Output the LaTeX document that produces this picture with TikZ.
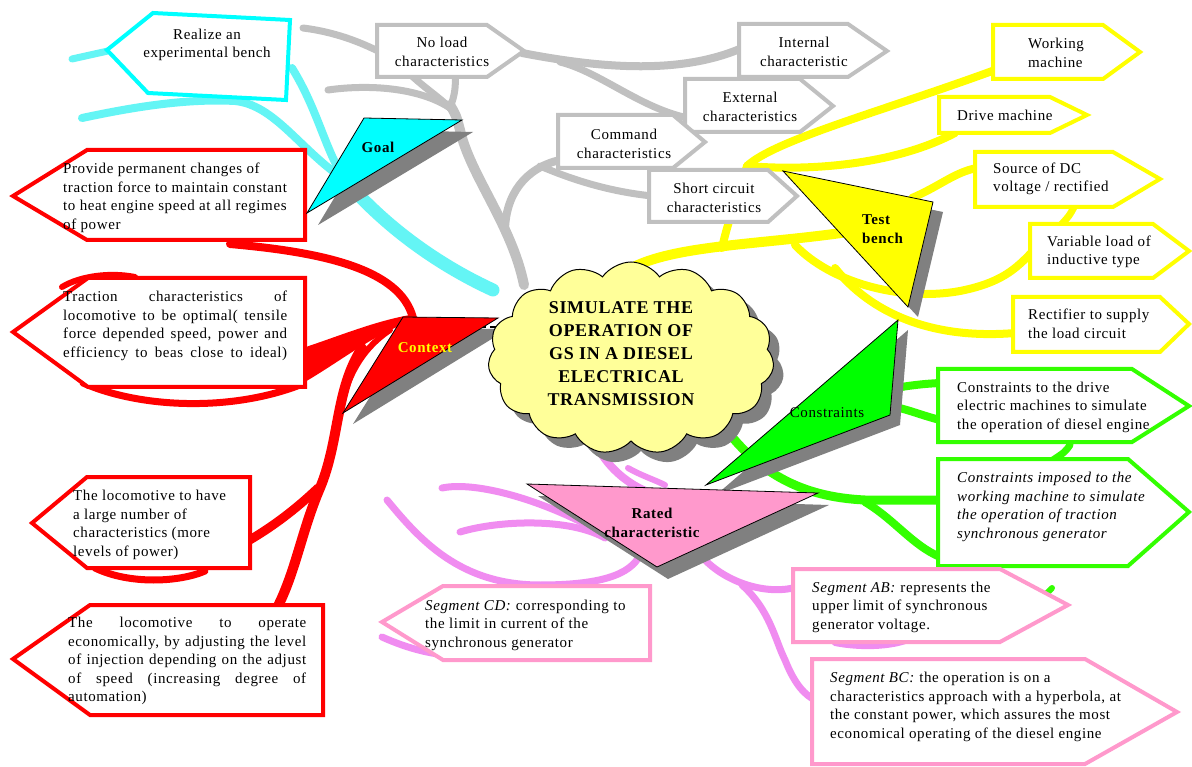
\documentclass[tikz,border=0pt]{standalone}
\usepackage{fontspec}
\setmainfont{Liberation Serif}[LetterSpace=4]
\usetikzlibrary{shapes.symbols,shadows}
\definecolor{cyb}{RGB}{0,255,255}
\definecolor{cyl}{RGB}{100,245,245}
\definecolor{gyb}{RGB}{192,192,192}
\definecolor{yel}{RGB}{255,255,0}
\definecolor{rd}{RGB}{255,0,0}
\definecolor{gnb}{RGB}{51,255,0}
\definecolor{gnt}{RGB}{0,255,0}
\definecolor{pkb}{RGB}{255,153,204}
\definecolor{pkl}{RGB}{240,140,240}
\definecolor{shd}{RGB}{128,128,128}
\definecolor{cld}{RGB}{255,255,153}
\newcommand\jl[2]{\makebox[#1][s]{#2}}
\tikzset{
  br/.style={line width=#1, line cap=round, line join=round},
  abox/.style={line width=4, fill=white, line join=miter},
  txt/.style={font=\fontsize{15}{18.5}\selectfont, inner sep=0, align=left, anchor=west},
  tri/.style={draw=black, line width=0.8},
  tlab/.style={font=\bfseries\fontsize{15}{18.5}\selectfont, inner sep=0, align=center},
}
\begin{document}
\begin{tikzpicture}[x=1pt,y=-1pt]
\fill[white] (0,0) rectangle (1192,767);
\useasboundingbox (0,0) rectangle (1192,767);

% ---------- gray branches ----------
\draw[gyb,br=10] (524,285) .. controls (512,225) and (470,175) .. (460,130) .. controls (456,115) .. (450,105);
\draw[gyb,br=7] (450,108) .. controls (455,95) and (456,85) .. (455,75);
\draw[gyb,br=7] (412,76) .. controls (425,88) and (440,98) .. (450,108);
\draw[gyb,br=7] (328,90) .. controls (370,84) and (420,88) .. (450,108);
\draw[gyb,br=7] (303,28) .. controls (335,32) and (360,42) .. (380,52);
\draw[gyb,br=8] (505,232) .. controls (505,195) and (525,168) .. (560,160);
\draw[gyb,br=7] (540,166) .. controls (580,183) and (615,192) .. (652,196);
\draw[gyb,br=8] (522,53) .. controls (600,68) and (680,75) .. (742,48);
\draw[gyb,br=7] (560,62) .. controls (600,72) and (640,108) .. (688,118);

% ---------- cyan branches ----------
\draw[cyl,br=13] (493,290) .. controls (445,268) and (390,232) .. (345,180);
\draw[cyl,br=8] (345,180) .. controls (325,150) and (318,110) .. (292,68);
\draw[cyl,br=8] (345,180) .. controls (300,150) and (275,105) .. (235,101) .. controls (180,98) and (120,110) .. (82,118);
\draw[cyl,br=7] (72,59) -- (108,51);

% ---------- red branches ----------
\draw[rd,br=8] (230,244) .. controls (320,252) and (400,268) .. (413,318);
\fill[rd] (290,352) .. controls (330,340) and (370,322) .. (410,315) -- (410,322) .. controls (370,335) and (330,370) .. (290,390) -- cycle;
\draw[rd,br=7] (83,383) .. controls (140,408) and (230,412) .. (300,385);
\draw[rd,br=6] (62,287) .. controls (80,276) and (110,272) .. (135,277);
\draw[rd,br=10] (362,348) .. controls (335,390) and (340,440) .. (320,488) .. controls (302,530) and (296,570) .. (278,606);
\draw[rd,br=6] (390,330) .. controls (360,350) and (345,380) .. (338,420);
\draw[rd,br=9] (318,488) .. controls (295,510) and (272,527) .. (248,541);
\draw[rd,br=7] (95,568) .. controls (130,585) and (180,582) .. (205,571);

% ---------- yellow branches ----------
\draw[yel,br=10] (625,272) .. controls (665,245) and (760,245) .. (848,232);
\draw[yel,br=8] (722,248) .. controls (728,220) and (740,190) .. (747,166);
\draw[yel,br=8] (747,166) .. controls (775,140) and (880,112) .. (995,70);
\draw[yel,br=8] (747,166) .. controls (820,172) and (900,162) .. (955,133);
\draw[yel,br=8] (795,245) .. controls (830,282) and (900,302) .. (960,291) .. controls (1000,283) and (1015,270) .. (1032,252);
\draw[yel,br=8] (835,268) .. controls (870,312) and (930,340) .. (1015,333);
\draw[yel,br=8] (912,198) .. controls (940,186) and (955,172) .. (977,168);
\draw[yel,br=7] (1075,205) .. controls (1070,215) .. (1060,226);

% ---------- green branches ----------
\draw[gnb,br=9] (728,432) .. controls (760,472) and (800,497) .. (865,500) -- (940,500);
\draw[gnb,br=8] (865,502) .. controls (895,520) and (912,545) .. (940,557);
\draw[gnb,br=8] (885,390) .. controls (905,386) and (920,384) .. (940,383);
\draw[gnb,br=8] (885,405) .. controls (905,408) and (920,415) .. (940,420);
\draw[gnb,br=7] (1070,445) .. controls (1065,452) .. (1053,460);
\draw[gnb,br=6] (1040,600) -- (1052,588);

% ---------- pink branches ----------
\draw[pkl,br=8] (598,448) .. controls (610,470) and (630,485) .. (648,492);
\draw[pkl,br=6] (628,468) .. controls (640,475) and (655,480) .. (665,485);
\draw[pkl,br=7] (442,488) .. controls (480,480) and (560,505) .. (622,545);
\draw[pkl,br=7] (460,532) .. controls (500,520) and (570,518) .. (605,538);
\draw[pkl,br=7] (387,500) .. controls (420,540) and (460,585) .. (540,585) .. controls (600,585) and (630,575) .. (640,555);
\draw[pkl,br=7] (705,560) .. controls (730,585) and (770,595) .. (797,587);
\draw[pkl,br=7] (742,585) .. controls (770,610) and (775,640) .. (785,660) .. controls (795,685) and (805,695) .. (815,700);
\draw[pkl,br=6] (835,643) .. controls (860,648) and (890,647) .. (908,640);
\draw[pkl,br=7] (382,637) .. controls (400,645) and (420,652) .. (445,655);

\draw[black, line width=1.5, dash pattern=on 8pt off 4pt] (478,327) -- (505,327);

% ---------- boxes ----------
\draw[abox,draw=cyb] (107,50) -- (153,13) -- (290,20) -- (286,100) -- (148,93) -- cycle;
\draw[abox,draw=gyb] (377,25) -- (487,25) -- (524,51) -- (487,77) -- (377,77) -- cycle;
\draw[abox,draw=gyb] (739,24) -- (848,24) -- (887,51) -- (848,77) -- (739,77) -- cycle;
\draw[abox,draw=gyb] (685,79) -- (800,79) -- (833,106) -- (800,132) -- (685,132) -- cycle;
\draw[abox,draw=gyb] (558,115) -- (673,115) -- (705,142) -- (673,168) -- (558,168) -- cycle;
\draw[abox,draw=gyb] (649,170) -- (768,170) -- (797,196) -- (768,222) -- (649,222) -- cycle;

\draw[abox,draw=yel] (993,25) -- (1103,25) -- (1140,52) -- (1103,79) -- (993,79) -- cycle;
\draw[abox,draw=yel] (939,97) -- (1050,97) -- (1087,115) -- (1050,133) -- (939,133) -- cycle;
\draw[abox,draw=yel] (975,152) -- (1113,152) -- (1160,179) -- (1113,207) -- (975,207) -- cycle;
\draw[abox,draw=yel] (1030,224) -- (1153,224) -- (1189,251) -- (1153,278) -- (1030,278) -- cycle;
\draw[abox,draw=yel] (1013,297) -- (1160,297) -- (1189,324) -- (1160,352) -- (1013,352) -- cycle;

\draw[abox,draw=gnb] (938,369) -- (1132,369) -- (1189,406) -- (1132,442) -- (938,442) -- cycle;
\draw[abox,draw=gnb] (938,459) -- (1128,459) -- (1189,512) -- (1128,566) -- (938,566) -- cycle;

\draw[abox,draw=pkb] (443,586) -- (650,586) -- (650,660) -- (443,660) -- (382,622) -- cycle;
\draw[abox,draw=pkb] (793,569) -- (1000,569) -- (1068,605) -- (1000,642) -- (793,642) -- cycle;
\draw[abox,draw=pkb] (812,659) -- (1085,659) -- (1177,712) -- (1085,764) -- (812,764) -- cycle;

\draw[abox,draw=rd] (87,150) -- (305,150) -- (305,240) -- (87,240) -- (13,196) -- cycle;
\draw[abox,draw=rd] (88,278) -- (305,278) -- (305,387) -- (88,387) -- (13,332) -- cycle;
\draw[abox,draw=rd] (87,477) -- (250,477) -- (250,568) -- (87,568) -- (32,523) -- cycle;
\draw[abox,draw=rd] (90,605) -- (323,605) -- (323,715) -- (90,715) -- (13,659) -- cycle;

% ---------- triangles ----------
\fill[shd] (375,130) -- (473,132) -- (318,225) -- cycle;
\filldraw[fill=cyb,tri] (364,118) -- (462,120) -- (307,213) -- cycle;
\fill[shd] (413,328) -- (508,329) -- (353,424) -- cycle;
\filldraw[fill=rd,tri] (403,317) -- (498,318) -- (343,413) -- cycle;
\fill[shd] (793,181) -- (943,212) -- (918,317) -- cycle;
\filldraw[fill=yel,tri] (783,171) -- (933,202) -- (908,307) -- cycle;
\fill[shd] (908,330) -- (900,425) -- (716,495) -- cycle;
\filldraw[fill=gnt,tri] (898,320) -- (890,415) -- (706,485) -- cycle;
\fill[shd] (538,496) -- (829,505) -- (668,579) -- cycle;
\filldraw[fill=pkb,tri] (527,484) -- (818,493) -- (657,567) -- cycle;

% ---------- cloud ----------
\node[cloud, cloud puffs=15, cloud puff arc=110, aspect=1.5, minimum width=286pt, minimum height=192pt,
      fill=cld, draw=black, line width=1,
      drop shadow={shadow xshift=10pt, shadow yshift=-10pt, fill=shd, opacity=1}] (cl) at (631,358) {};
\node[font=\bfseries\fontsize{18}{23}\selectfont, align=center, inner sep=0] (clt) at (621,354)
  {SIMULATE THE\\OPERATION OF\\GS IN A DIESEL\\ELECTRICAL\\TRANSMISSION};

% ---------- triangle labels ----------
\node[tlab] (goal) at (378,147) {Goal};
\node[tlab, text=yel] (ctx) at (425,348) {Context};
\node[tlab, align=left, anchor=west] (tb) at (862,229) {Test\\bench};
\node[txt, anchor=center] (cons) at (827,413) {Constraints};
\node[tlab] (rated) at (652,523) {Rated\\characteristic};

% ---------- box texts ----------
\node[txt, align=center, anchor=center] (b1) at (207,45) {Realize an\\experimental bench};
\node[txt, align=center, anchor=center] (g1) at (442,52) {No load\\characteristics};
\node[txt, align=center, anchor=center] (g2) at (804,52) {Internal\\characteristic};
\node[txt, align=center, anchor=center] (g3) at (750,107) {External\\characteristics};
\node[txt, align=center, anchor=center] (g4) at (624,144) {Command\\characteristics};
\node[txt, align=center, anchor=center] (g5) at (714,198) {Short circuit\\characteristics};

\node[txt] (y1) at (1028,53) {Working\\machine};
\node[txt] (y2) at (957,115) {Drive machine};
\node[txt] (y3) at (993,179) {Source of DC\\voltage / rectified};
\node[txt] (y4) at (1047,252) {Variable load of\\inductive type};
\node[txt] (y5) at (1028,324) {Rectifier to supply\\the load circuit};

\node[txt] (n1) at (957,407) {Constraints to the drive\\electric machines to simulate\\the operation of diesel engine};
\node[txt, font=\itshape\fontsize{15}{18.5}\selectfont] (n2) at (957,507) {Constraints imposed to the\\working machine to simulate\\the operation of traction\\synchronous generator};

\node[txt] (p1) at (425,625) {\textit{Segment CD:} corresponding to\\the limit in current of the\\synchronous generator};
\node[txt] (p2) at (812,607) {\textit{Segment AB:} represents the\\upper limit of synchronous\\generator voltage.};
\node[txt] (p3) at (830,707) {\textit{Segment BC:} the operation is on a\\characteristics approach with a hyperbola, at\\the constant power, which assures the most\\economical operating of the diesel engine};

\node[txt] (r1) at (63,198) {Provide permanent changes of\\traction force to maintain constant\\to heat engine speed at all regimes\\of power};
\node[txt] (r2) at (63,326) {\jl{224pt}{Traction characteristics of}\\\jl{224pt}{locomotive to be optimal( tensile}\\\jl{224pt}{force depended speed, power and}\\\jl{224pt}{efficiency to beas close to ideal)}};
\node[txt] (r3) at (73,525) {The locomotive to have\\a large number of\\characteristics (more\\levels of power)};
\node[txt] (r4) at (68,661) {\jl{238pt}{The locomotive to operate}\\\jl{238pt}{economically, by adjusting the level}\\\jl{238pt}{of injection depending on the adjust}\\\jl{238pt}{of speed (increasing degree of}\\automation)};
\end{tikzpicture}
\end{document}
